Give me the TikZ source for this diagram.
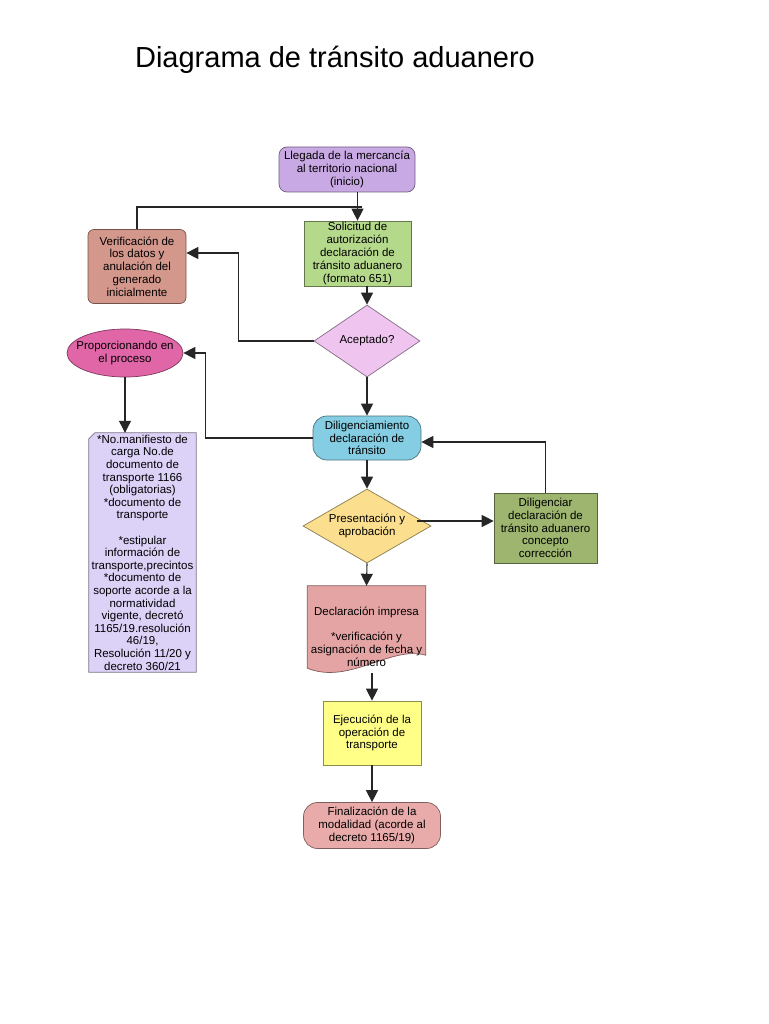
\documentclass[tikz,border=0pt]{standalone}
\usepackage{fontspec}
\setmainfont{Liberation Sans}
\usetikzlibrary{positioning, shapes, arrows.meta, backgrounds}
\definecolor{llegcol}{HTML}{C9A9E3}
\definecolor{solcol}{HTML}{B5D98B}
\definecolor{verifcol}{HTML}{D4978C}
\definecolor{acepcol}{HTML}{EFC5EF}
\definecolor{propcol}{HTML}{E066A8}
\definecolor{notascol}{HTML}{DCD1F7}
\definecolor{diligcol}{HTML}{84CDE2}
\definecolor{prescol}{HTML}{FBDF8E}
\definecolor{corrcol}{HTML}{9DB56E}
\definecolor{declcol}{HTML}{E5A4A4}
\definecolor{ejeccol}{HTML}{FFFF88}
\definecolor{fincol}{HTML}{E9AAAA}

\begin{document}
\begin{tikzpicture}[x=1pt, y=-1pt, >={Triangle[length=12pt,width=12pt]},
  every node/.style={font=\fontsize{11.5}{12.8}\selectfont},
  box/.style={draw=#1!55!black, fill=#1, line width=0.7pt, align=center, inner sep=0pt},
  flow/.style={->, line width=1.1pt, color=black!85},
  link/.style={line width=1.1pt, color=black!85}]
  \useasboundingbox (0,0) rectangle (768,1024);

  \node[font=\fontsize{29}{34}\selectfont, anchor=base] (title) at (335,68) {Diagrama de tránsito aduanero};

  % main column
  \node[box=llegcol, rounded corners=8pt, minimum width=136pt, minimum height=45pt] (lleg) at (347,169.5) {Llegada de la mercancía\\al territorio nacional\\(inicio)};
  \node[box=solcol, minimum width=107pt, minimum height=65pt] (sol) at (357.5,253.5) {Solicitud de\\autorización\\declaración de\\tránsito aduanero\\(formato 651)};
  \node[box=acepcol, diamond, minimum width=106pt, minimum height=72pt,
    label={[align=center]center:Aceptado?}] (acep) at (367,341) {};
  \node[box=diligcol, rounded corners=14pt, minimum width=108pt, minimum height=44pt] (dilig) at (367,438) {Diligenciamiento\\declaración de\\tránsito};
  \node[box=prescol, diamond, minimum width=128pt, minimum height=74pt,
    label={[align=center]center:Presentación y\\aprobación}] (pres) at (367,526) {};
  \node[inner sep=0pt, minimum width=118pt, minimum height=87pt,
    label={[align=center,yshift=-7pt]center:Declaración impresa\\[12.8pt]{*}verificación y\\asignación de fecha y\\número}] (decl) at (366.5,629.5) {};
  \node[box=ejeccol, minimum width=98pt, minimum height=64pt] (ejec) at (372,733) {Ejecución de la\\operación de\\transporte};
  \node[box=fincol, rounded corners=14pt, minimum width=137pt, minimum height=46pt] (fin) at (372,825.5) {Finalización de la\\modalidad (acorde al\\decreto 1165/19)};

  % side nodes
  \node[box=verifcol, rounded corners=6pt, minimum width=98pt, minimum height=74pt] (verif) at (137,266.5) {Verificación de\\los datos y\\anulación del\\generado\\inicialmente};
  \node[box=propcol, ellipse, minimum width=116pt, minimum height=48pt,
    label={[align=center]center:Proporcionando en\\el proceso}] (prop) at (125,353) {};
  \node[inner sep=0pt, align=center, minimum width=107pt, minimum height=239pt,
    font=\fontsize{11.5}{12.6}\selectfont] (notas) at (142.5,552.5) {*No.manifiesto de\\carga No.de\\documento de\\transporte 1166\\(obligatorias)\\{*}documento de\\transporte\\[12.6pt]{*}estipular\\información de\\transporte,precintos\\{*}documento de\\soporte acorde a la\\normatividad\\vigente, decretó\\1165/19.resolución\\46/19,\\Resolución 11/20 y\\decreto 360/21};
  \node[box=corrcol, minimum width=103pt, minimum height=70pt] (corr) at (545.5,528) {Diligenciar\\declaración de\\tránsito aduanero\\concepto\\corrección};

  \begin{scope}[on background layer]
    \draw[draw=notascol!55!black, fill=notascol, line width=0.7pt] ([xshift=6pt]notas.north west) -- (notas.north east) -- (notas.south east) -- (notas.south west) -- ([yshift=-6pt]notas.north west) -- cycle;
    \draw[draw=declcol!55!black, fill=declcol, line width=0.7pt] (decl.north west) -- (decl.north east) -- ([yshift=18pt]decl.south east)
      .. controls ([xshift=-35pt,yshift=28pt]decl.south east) and ([xshift=42pt,yshift=-12pt]decl.south west) .. ([yshift=5pt]decl.south west) -- cycle;
  \end{scope}

  \coordinate (join) at (362,207);

  \path[flow]
    (sol.north |- lleg.south) edge (sol.north)
    (acep.north |- sol.south) edge (acep.north)
    (acep.south) edge (dilig.north)
    (dilig.south) edge (pres.north)
    (pres.south) edge (decl.north)
    (ejec.north |- decl.south) edge (ejec.north)
    (ejec.south) edge (fin.north)
    (prop.south) edge (prop.south |- notas.north);
  \draw[link] (verif.north) |- (join);
  \draw[flow] (acep.west) -- ++(-75,0) |- ([yshift=13.5pt]verif.east);
  \draw[flow] (dilig.west) -- ++(-107,0) |- (prop.east);
  \draw[flow] ([xshift=-14pt,yshift=5pt]pres.east) -- ([yshift=7pt]corr.west);
  \draw[flow] (corr.north) |- ([yshift=-4pt]dilig.east);
\end{tikzpicture}
\end{document}
